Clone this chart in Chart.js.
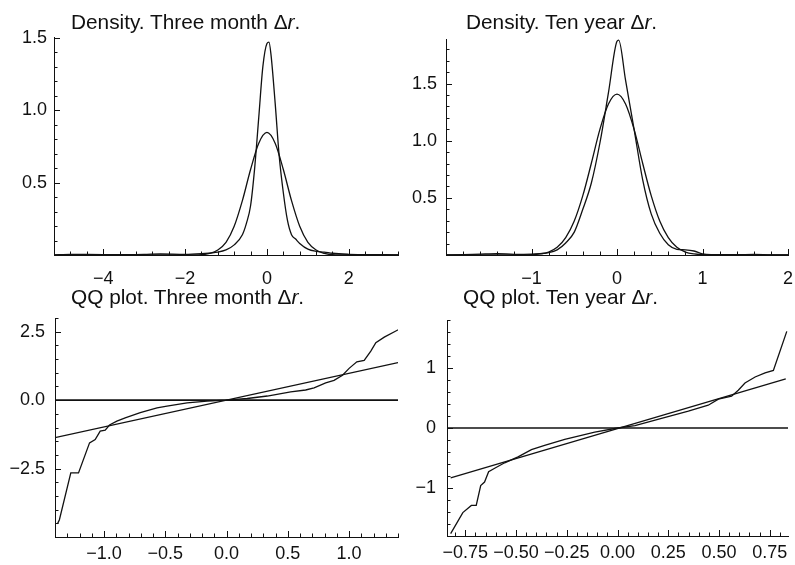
<!DOCTYPE html>
<html>
<head>
<meta charset="utf-8">
<script src="https://cdn.jsdelivr.net/npm/chart.js@4.4.0/dist/chart.umd.min.js"></script>
<style>
  body { margin: 0; background: #fff; }
  #wrap { position: relative; width: 795px; height: 565px; overflow: hidden; }
  canvas { position: absolute; }
  .title { position: absolute; font: 20.8px 'Liberation Sans', Arial, sans-serif; line-height: 20px; color: #111; white-space: nowrap; z-index: 2; }
</style>
</head>
<body>
<div id="wrap">
  <div class="title" style="left:71px; top:12px">Density. Three month &Delta;<i>r</i>.</div>
  <div class="title" style="left:466px; top:12px">Density. Ten year &Delta;<i>r</i>.</div>
  <div class="title" style="left:71px; top:287px">QQ plot. Three month &Delta;<i>r</i>.</div>
  <div class="title" style="left:463px; top:287px">QQ plot. Ten year &Delta;<i>r</i>.</div>
  <canvas id="c1" style="left:0; top:0" width="400" height="290"></canvas>
  <canvas id="c2" style="left:400px; top:0" width="395" height="290"></canvas>
  <canvas id="c3" style="left:0; top:290px" width="400" height="275"></canvas>
  <canvas id="c4" style="left:400px; top:290px" width="395" height="275"></canvas>
</div>
<script>
// Density, three month change: empirical kernel density and fitted normal
const d3mX    = [-5.2, -4.8, -4.0, -3.0, -2.6, -2.0, -1.6, -1.2, -1.0, -0.8, -0.6, -0.5, -0.4, -0.3, -0.2, -0.1, 0, 0.05, 0.1, 0.2, 0.3, 0.4, 0.5, 0.6, 0.7, 0.8, 1.0, 1.2, 1.4, 1.6, 2.0, 2.4, 2.9, 3.2];
const d3mEmp  = [0, 0.005, 0.003, 0.005, 0.008, 0.005, 0.01, 0.02, 0.035, 0.07, 0.14, 0.22, 0.34, 0.60, 0.95, 1.30, 1.46, 1.47, 1.38, 1.05, 0.68, 0.43, 0.24, 0.14, 0.11, 0.08, 0.04, 0.025, 0.02, 0.012, 0.005, 0.002, 0.002, 0];
const d3mNX   = [-5.2, -2.0, -1.6, -1.4, -1.2, -1.0, -0.8, -0.6, -0.4, -0.2, 0, 0.2, 0.4, 0.6, 0.8, 1.0, 1.2, 1.4, 1.6, 2.0, 3.2];
const d3mNorm = [0, 0, 0.002, 0.011, 0.034, 0.087, 0.198, 0.375, 0.59, 0.772, 0.846, 0.772, 0.59, 0.375, 0.198, 0.087, 0.034, 0.011, 0.002, 0, 0];

// Density, ten year change
const d10X    = [-2.0, -1.8, -1.6, -1.4, -1.2, -1.0, -0.9, -0.8, -0.7, -0.6, -0.5, -0.4, -0.3, -0.2, -0.1, 0, 0.02, 0.1, 0.2, 0.3, 0.4, 0.5, 0.6, 0.7, 0.8, 0.9, 1.0, 1.1, 1.4, 1.6, 1.8, 2.0];
const d10Emp  = [0, 0.003, 0.008, 0.012, 0.006, 0.008, 0.012, 0.02, 0.045, 0.105, 0.20, 0.40, 0.63, 0.98, 1.42, 1.87, 1.88, 1.53, 1.10, 0.66, 0.36, 0.19, 0.09, 0.05, 0.045, 0.035, 0.01, 0.003, 0.002, 0.006, 0.001, 0];
const d10NX   = [-2.0, -1.2, -1.0, -0.9, -0.8, -0.7, -0.6, -0.5, -0.4, -0.3, -0.2, -0.1, 0, 0.1, 0.2, 0.3, 0.4, 0.5, 0.6, 0.7, 0.8, 0.9, 1.0, 1.2, 2.0];
const d10Norm = [0, 0.0002, 0.003, 0.009, 0.026, 0.067, 0.152, 0.297, 0.519, 0.803, 1.099, 1.321, 1.407, 1.321, 1.099, 0.803, 0.519, 0.297, 0.152, 0.067, 0.026, 0.009, 0.003, 0.0002, 0];

// QQ plot, three month change (theoretical vs sample quantiles)
const q3mX = [-1.38, -1.364, -1.271, -1.208, -1.118, -1.072, -1.031, -0.99, -0.955, -0.895, -0.827, -0.704, -0.567, -0.486, -0.322, -0.158, 0, 0.169, 0.333, 0.524, 0.646, 0.715, 0.81, 0.878, 0.947, 1.001, 1.064, 1.124, 1.178, 1.219, 1.288, 1.41];
const q3mY = [-4.52, -4.37, -2.66, -2.66, -1.56, -1.44, -1.13, -1.10, -0.91, -0.77, -0.65, -0.46, -0.28, -0.22, -0.10, -0.04, 0, 0.06, 0.15, 0.30, 0.37, 0.45, 0.63, 0.72, 0.91, 1.16, 1.40, 1.45, 1.79, 2.10, 2.30, 2.59];
const q3mLineX = [-1.4, 1.4];
const q3mLineY = [-1.37, 1.37];

// QQ plot, ten year change
const q10X = [-0.822, -0.762, -0.72, -0.696, -0.674, -0.655, -0.635, -0.605, -0.556, -0.49, -0.424, -0.359, -0.26, -0.112, 0, 0.086, 0.217, 0.349, 0.447, 0.497, 0.562, 0.595, 0.628, 0.678, 0.727, 0.768, 0.834];
const q10Y = [-1.76, -1.41, -1.29, -1.29, -0.96, -0.90, -0.73, -0.67, -0.58, -0.48, -0.36, -0.29, -0.19, -0.07, 0, 0.04, 0.16, 0.28, 0.38, 0.48, 0.53, 0.63, 0.75, 0.85, 0.92, 0.96, 1.61];
const q10LineX = [-0.822, 0.829];
const q10LineY = [-0.83, 0.82];

// tick labels
const d3mXMajor = [-4, -2, 0, 2];
const d3mXLabels = ['\u22124', '\u22122', '0', '2'];
const d3mYMajor = [0.5, 1.0, 1.5];
const d3mYLabels = ['0.5', '1.0', '1.5'];
const d10XMajor = [-1, 0, 1, 2];
const d10XLabels = ['\u22121', '0', '1', '2'];
const d10YMajor = [0.5, 1.0, 1.5];
const d10YLabels = ['0.5', '1.0', '1.5'];
const q3mXMajor = [-1.0, -0.5, 0, 0.5, 1.0];
const q3mXLabels = ['\u22121.0', '\u22120.5', '0.0', '0.5', '1.0'];
const q3mYMajor = [-2.5, 0, 2.5];
const q3mYLabels = ['\u22122.5', '0.0', '2.5'];
const q10XMajor = [-0.75, -0.5, -0.25, 0, 0.25, 0.5, 0.75];
const q10XLabels = ['\u22120.75', '\u22120.50', '\u22120.25', '0.00', '0.25', '0.50', '0.75'];
const q10YMajor = [-1, 0, 1];
const q10YLabels = ['\u22121', '0', '1'];

const FONT = "'Liberation Sans', Arial, sans-serif";
const INK = '#111';

function pts(xs, ys) {
  return xs.map((x, i) => ({ x: x, y: ys[i] }));
}

function steps(from, to, step) {
  const out = [];
  const n = Math.round((to - from) / step);
  for (let i = 0; i <= n; i++) out.push(+(from + i * step).toFixed(4));
  return out;
}

function isMajor(v, majors) {
  return majors.some(m => Math.abs(m - v) < 1e-6);
}

// Mathematica style ticks pointing into the plot
const innerTicks = {
  id: 'innerTicks',
  afterDatasetsDraw(chart) {
    const { ctx, chartArea: a, scales: { x, y } } = chart;
    const cfg = chart.options.plugins.innerTicks;
    ctx.save();
    ctx.strokeStyle = INK;
    ctx.lineWidth = 1;
    ctx.beginPath();
    x.ticks.forEach(t => {
      const px = Math.round(x.getPixelForValue(t.value)) + 0.5;
      const len = isMajor(t.value, cfg.xMajor) ? 6 : 3.5;
      ctx.moveTo(px, a.bottom);
      ctx.lineTo(px, a.bottom - len);
    });
    y.ticks.forEach(t => {
      const py = Math.round(y.getPixelForValue(t.value)) + 0.5;
      const len = isMajor(t.value, cfg.yMajor) ? 6 : 3.5;
      ctx.moveTo(a.left, py);
      ctx.lineTo(a.left + len, py);
    });
    ctx.stroke();
    ctx.restore();
  }
};

function panel(id, p) {
  const lineSet = (data, width) => ({
    data: data,
    showLine: true,
    borderColor: INK,
    borderWidth: width || 1.3,
    pointRadius: 0,
    tension: p.smooth ? 0.35 : 0,
    cubicInterpolationMode: p.smooth ? 'monotone' : 'default',
    fill: false
  });
  return new Chart(document.getElementById(id), {
    type: 'scatter',
    data: { datasets: p.series.map(s => lineSet(s.data, s.width)) },
    options: {
      responsive: false,
      animation: false,
      events: [],
      layout: { padding: p.padding },
      plugins: {
        legend: { display: false },
        tooltip: { enabled: false },
        innerTicks: { xMajor: p.xMajor, yMajor: p.yMajor }
      },
      scales: {
        x: {
          type: 'linear',
          min: p.xmin, max: p.xmax,
          afterBuildTicks: s => { s.ticks = p.xTicks.map(v => ({ value: v })); },
          afterFit: s => { s.height = p.xHeight; s.paddingLeft = 0; s.paddingRight = 0; },
          grid: { display: false, drawTicks: false },
          border: { display: true, color: INK, width: 1 },
          ticks: {
            autoSkip: false, maxRotation: 0, padding: p.xPad,
            color: INK, font: { family: FONT, size: 18 },
            callback: v => { const i = p.xMajor.findIndex(m => Math.abs(m - v) < 1e-6); return i < 0 ? '' : p.xLabels[i]; }
          }
        },
        y: {
          type: 'linear',
          min: p.ymin, max: p.ymax,
          afterBuildTicks: s => { s.ticks = p.yTicks.map(v => ({ value: v })); },
          afterFit: s => { s.width = p.yWidth; s.paddingTop = 0; s.paddingBottom = 0; },
          grid: { display: false, drawTicks: false },
          border: { display: true, color: INK, width: 1 },
          ticks: {
            autoSkip: false, padding: p.yPad,
            color: INK, font: { family: FONT, size: 18 },
            callback: v => { const i = p.yMajor.findIndex(m => Math.abs(m - v) < 1e-6); return i < 0 ? '' : p.yLabels[i]; }
          }
        }
      }
    },
    plugins: [innerTicks]
  });
}

panel('c1', {
  smooth: true,
  series: [{ data: pts(d3mX, d3mEmp) }, { data: pts(d3mNX, d3mNorm) }],
  xmin: -5.2, xmax: 3.2, ymin: 0, ymax: 1.505,
  xTicks: steps(-4.8, 3.2, 0.4), yTicks: steps(0.1, 1.5, 0.1),
  xMajor: d3mXMajor, xLabels: d3mXLabels, yMajor: d3mYMajor, yLabels: d3mYLabels,
  padding: { top: 37, right: 2, left: 0, bottom: 0 },
  yWidth: 54, xHeight: 35, xPad: 13, yPad: 7
});

panel('c2', {
  smooth: true,
  series: [{ data: pts(d10X, d10Emp) }, { data: pts(d10NX, d10Norm) }],
  xmin: -2, xmax: 2, ymin: 0, ymax: 1.89,
  xTicks: steps(-1.8, 2.0, 0.2), yTicks: steps(0.1, 1.8, 0.1),
  xMajor: d10XMajor, xLabels: d10XLabels, yMajor: d10YMajor, yLabels: d10YLabels,
  padding: { top: 39, right: 7, left: 0, bottom: 0 },
  yWidth: 46, xHeight: 35, xPad: 13, yPad: 9
});

panel('c3', {
  smooth: false,
  series: [
    { data: pts(q3mX, q3mY) },
    { data: pts(q3mLineX, q3mLineY) },
    { data: pts([-1.4, 1.4], [0, 0]), width: 1.6 }
  ],
  xmin: -1.4, xmax: 1.4, ymin: -5, ymax: 3,
  xTicks: steps(-1.3, 1.4, 0.1), yTicks: steps(-5, 3, 0.5),
  xMajor: q3mXMajor, xLabels: q3mXLabels, yMajor: q3mYMajor, yLabels: q3mYLabels,
  padding: { top: 28, right: 2, left: 0, bottom: 0 },
  yWidth: 55, xHeight: 28, xPad: 6, yPad: 10
});

panel('c4', {
  smooth: false,
  series: [
    { data: pts(q10X, q10Y) },
    { data: pts(q10LineX, q10LineY) },
    { data: pts([-0.84, 0.84], [0, 0]), width: 1.3 }
  ],
  xmin: -0.84, xmax: 0.84, ymin: -1.8, ymax: 1.8,
  xTicks: steps(-0.8, 0.8, 0.05), yTicks: steps(-1.8, 1.8, 0.2),
  xMajor: q10XMajor, xLabels: q10XLabels, yMajor: q10YMajor, yLabels: q10YLabels,
  padding: { top: 30, right: 7, left: 0, bottom: 0 },
  yWidth: 47, xHeight: 29, xPad: 6, yPad: 11
});
</script>
</body>
</html>
